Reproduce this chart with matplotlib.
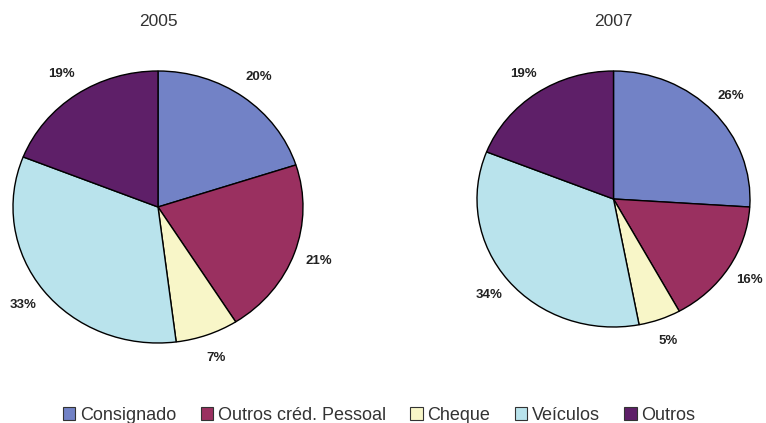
import matplotlib.pyplot as plt
from matplotlib.patches import Patch

plt.rcParams['font.family'] = ['Liberation Sans', 'DejaVu Sans']

# Data
categories = ['Consignado', 'Outros créd. Pessoal', 'Cheque', 'Veículos', 'Outros']
years = ['2005', '2007']
share_2005 = [20, 21, 7, 33, 19]
share_2007 = [26, 16, 5, 34, 19]
colors = ['#7282c6', '#9a3060', '#f8f6c8', '#b9e3ec', '#5e1f68']

W, H = 766, 423
fig = plt.figure(figsize=(W / 100, H / 100), dpi=100)

# axes boxes in pixels (left, top, right, bottom) -> pies are slightly elliptical
boxes = [(13, 71, 303, 343), (477, 71, 750, 327)]

for year, vals, (x0, y0, x1, y1) in zip(years, [share_2005, share_2007], boxes):
    ax = fig.add_axes([x0 / W, (H - y1) / H, (x1 - x0) / W, (y1 - y0) / H])
    wedges, texts = ax.pie(vals, colors=colors, startangle=90, counterclock=False,
                           labels=[f'{v}%' for v in vals], labeldistance=1.18,
                           wedgeprops=dict(edgecolor='black', linewidth=1.0),
                           textprops=dict(fontsize=9.5, fontweight='bold', color='#222222'))
    for t in texts:
        t.set_ha('center')
        t.set_va('center')
    ax.set_aspect('auto')
    ax.set_xlim(-1, 1)
    ax.set_ylim(-1, 1)
    cx = (x0 + x1) / 2 / W
    fig.text(cx, 1 - 22 / H, year, ha='center', va='center', fontsize=12.5, color='#333333')

handles = [Patch(facecolor=c, edgecolor='#333333', linewidth=0.8) for c in colors]
fig.legend(handles, categories, loc='center', bbox_to_anchor=(379 / W, 1 - 415 / H),
           ncol=5, frameon=False, fontsize=13, handlelength=0.7, handleheight=0.7,
           handletextpad=0.25, columnspacing=1.35, borderaxespad=0, borderpad=0,
           labelcolor='#333333')

fig.savefig('out.png', dpi=100)
